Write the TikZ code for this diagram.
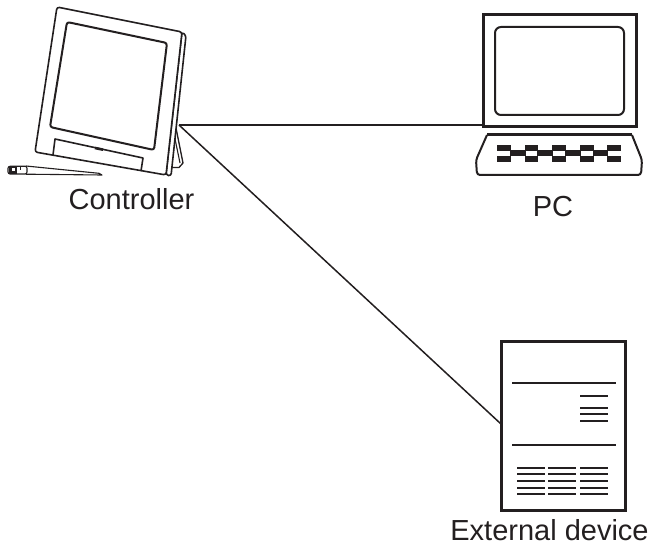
\documentclass[tikz,border=0pt]{standalone}
\usepackage{fontspec}
\setmainfont{Liberation Sans}
\begin{document}
\definecolor{ink}{RGB}{35,31,32}
\begin{tikzpicture}[x=1pt,y=-1pt,
  every path/.style={draw=ink},
  outline/.style={line width=1.6pt,line join=round,rounded corners=2.5pt},
  heavy/.style={line width=3pt},
  rule/.style={line width=2pt},
  cable/.style={line width=1.5pt},
  devicebox/.style={draw=ink,heavy,inner sep=0pt,outer sep=0pt},
  caption/.style={anchor=base,text=ink,font=\fontsize{29}{34}\selectfont,inner sep=0pt}]
\path[use as bounding box,draw=none] (0,0) rectangle (651,545);

% ---------- controller (tablet on its stand) ----------
% stand leg behind the tablet
\draw[line width=1.3pt,line join=round] (176,128) -- (183,163) -- (179,167.5) -- (170,167.5);
\draw[line width=1.1pt] (174,134) -- (180,163);
% side edge of the tablet
\draw[outline,fill=white] (182,32) -- (186,35.5) -- (171,176) -- (166,175) -- cycle;
% front frame
\draw[outline,fill=white] (57,7) -- (182,32) -- (166,175) -- (35,152) -- cycle;
% screen
\draw[outline,line width=2pt] (67,22) -- (167,43) -- (154,150) -- (50,127) -- cycle;
% stylus slot
\draw[line width=1.6pt,line join=round] (53,155) -- (55,139) -- (143,158) -- (141,171);
\draw[line width=2.6pt] (95,148) -- (103,149.7);
% stylus
\draw[line width=1.1pt,fill=white,line join=round] (26,166) -- (99,173.3) -- (102,175) -- (26,174.2) -- cycle;
\draw[line width=1.1pt,fill=white,rounded corners=2pt] (8,166.3) rectangle (27,174);
\fill[ink] (9,167) rectangle (16,173.3);
\fill[white] (12,168.5) rectangle (14,170.5);
\draw[line width=1pt] (20,167.5) -- (20,170);
\coordinate (ctrl) at (179,125);
\node[caption] (ctrllabel) at (131.5,210) {Controller};

% ---------- PC ----------
\node[devicebox,minimum width=153pt,minimum height=112pt] (pc) at (559.5,71) {};
\draw[rule,rounded corners=6pt] (495,27) rectangle (624,115);
\draw[rule,line join=round,rounded corners=3pt] (487,135) -- (476,160) -- (477,175) -- (641,175) -- (642,160) -- (632,135);
\draw[heavy] (487,135) -- (632,135);
% keys
\foreach \a/\b in {496.7/510,525/536.7,551.7/565,580/593.3,606.7/620}{
  \fill[ink] (\a,145) rectangle (\b,150);
  \fill[ink] (\a,156) rectangle (\b,161);
}
\foreach \a/\b in {510/525,536.7/551.7,565/580,593.3/606.7}{
  \fill[ink] (\a,150.5) rectangle (\b,155.5);
}
\node[caption] (pclabel) at (553,217) {PC};

% ---------- external device ----------
\node[devicebox,minimum width=124pt,minimum height=168pt] (ext) at (563,426) {};
\draw[rule] (512,383.3) -- (616,383.3);
\foreach \y in {396,407.7,414.3,421}{ \draw[rule] (580,\y) -- (608,\y); }
\draw[rule] (512,445) -- (616,445);
\foreach \y in {467.7,474.3,481,487.7,494.3}{
  \foreach \a/\b in {517/545,548/576,580/608}{ \draw[rule] (\a,\y) -- (\b,\y); }
}
\node[caption] (extlabel) at (549.5,540) {External device};

% ---------- cables ----------
\draw[cable] (ctrl) -- ([yshift=2pt]pc.south west);
\draw[cable] (ctrl) -- ([yshift=2pt]ext.west);
\end{tikzpicture}
\end{document}
